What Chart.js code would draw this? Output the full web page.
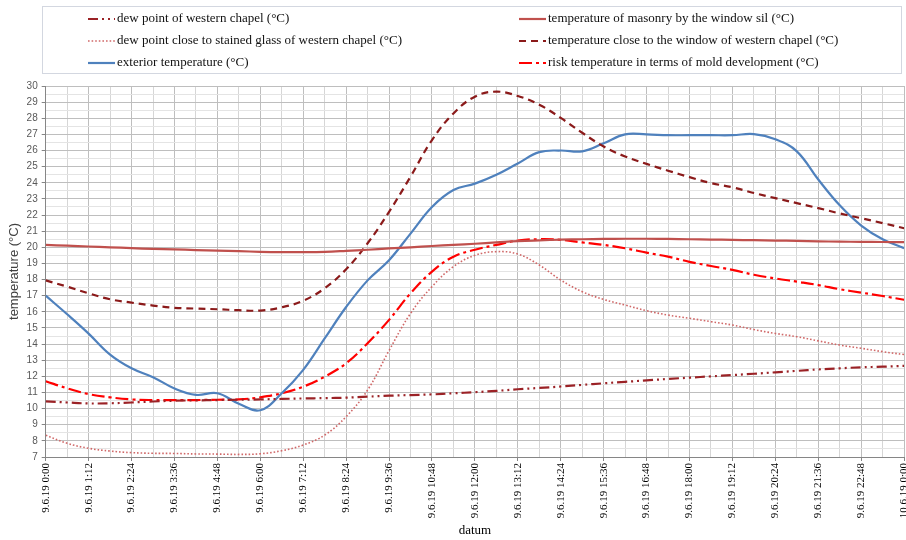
<!DOCTYPE html>
<html><head><meta charset="utf-8">
<script src="https://cdn.jsdelivr.net/npm/chart.js@4.4.1/dist/chart.umd.min.js"></script>
<style>html,body{margin:0;padding:0;background:#fff;overflow:hidden}#wrap{width:906px;height:540px;position:relative}</style>
</head><body><div id="wrap"><canvas id="c" width="906" height="540"></canvas></div>
<script>
// time in hours from 9.6.19 0:00
const hours = [0,0.6,1.2,1.8,2.4,3,3.6,4.2,4.8,5.4,6,6.6,7.2,7.8,8.4,9,9.6,10.2,10.8,11.4,12,12.6,13.2,13.8,14.4,15,15.6,16.2,16.8,17.4,18,18.6,19.2,19.8,20.4,21,21.6,22.2,22.8,23.4,24];
const xTickLabels = ["9.6.19 0:00","9.6.19 1:12","9.6.19 2:24","9.6.19 3:36","9.6.19 4:48","9.6.19 6:00","9.6.19 7:12","9.6.19 8:24","9.6.19 9:36","9.6.19 10:48","9.6.19 12:00","9.6.19 13:12","9.6.19 14:24","9.6.19 15:36","9.6.19 16:48","9.6.19 18:00","9.6.19 19:12","9.6.19 20:24","9.6.19 21:36","9.6.19 22:48","10.6.19 0:00"];
const seriesNames = ["dew point of western chapel (°C)","temperature of masonry by the window sil (°C)","dew point close to stained glass of western chapel (°C)","temperature close to the window of western chapel (°C)","exterior temperature (°C)","risk temperature in terms of mold development (°C)"];
const dewPointChapel = [10.45,10.38,10.32,10.33,10.38,10.44,10.49,10.51,10.53,10.55,10.57,10.6,10.63,10.65,10.68,10.74,10.8,10.84,10.88,10.95,11.02,11.1,11.2,11.28,11.37,11.47,11.57,11.66,11.75,11.84,11.92,12.0,12.08,12.16,12.25,12.34,12.43,12.5,12.56,12.6,12.65];
const masonryTemp = [20.15,20.1,20.05,20.0,19.95,19.9,19.87,19.83,19.8,19.76,19.72,19.7,19.7,19.72,19.78,19.85,19.93,20.0,20.08,20.15,20.22,20.3,20.38,20.43,20.47,20.5,20.52,20.53,20.53,20.52,20.5,20.48,20.46,20.44,20.42,20.4,20.37,20.35,20.34,20.33,20.32];
const dewPointGlass = [8.35,7.85,7.54,7.37,7.27,7.23,7.22,7.19,7.18,7.16,7.2,7.39,7.74,8.36,9.5,11.15,13.6,15.9,17.56,18.8,19.5,19.73,19.58,18.9,17.97,17.25,16.77,16.42,16.07,15.8,15.6,15.39,15.18,14.9,14.66,14.46,14.2,13.94,13.74,13.53,13.35];
const windowTemp = [17.95,17.56,17.15,16.78,16.57,16.39,16.25,16.2,16.16,16.1,16.08,16.28,16.69,17.46,18.64,20.25,22.2,24.38,26.65,28.3,29.34,29.65,29.38,28.84,28.02,27.1,26.25,25.63,25.17,24.75,24.35,23.98,23.72,23.37,23.05,22.74,22.43,22.1,21.8,21.5,21.18];
const exteriorTemp = [17.0,15.85,14.65,13.35,12.5,11.95,11.25,10.85,10.95,10.3,9.9,10.95,12.4,14.35,16.3,17.95,19.2,20.85,22.5,23.55,23.95,24.5,25.2,25.9,26.0,25.95,26.45,27.0,27.0,26.95,26.95,26.95,26.95,27.02,26.7,25.95,24.2,22.6,21.35,20.5,19.95];
const riskTemp = [11.7,11.26,10.9,10.7,10.57,10.53,10.53,10.53,10.55,10.57,10.7,10.95,11.36,11.98,12.81,14.05,15.5,17.15,18.49,19.42,19.85,20.15,20.42,20.5,20.46,20.3,20.15,19.94,19.67,19.42,19.1,18.84,18.6,18.3,18.07,17.87,17.66,17.4,17.19,16.98,16.75];

const pts = arr => arr.map((v, i) => ({x: hours[i], y: v}));
const styles = [
  {c:'#9B2226', w:2.2, d:[10,4,2,4,2,4]},
  {c:'#C0504D', w:2.2, d:[]},
  {c:'#D06868', w:1.6, d:[1.6,2]},
  {c:'#8B1A1A', w:2.2, d:[7,5]},
  {c:'#4F81BD', w:2.2, d:[]},
  {c:'#FF0000', w:2.2, d:[13,4,3,4]}
];
const values = [dewPointChapel, masonryTemp, dewPointGlass, windowTemp, exteriorTemp, riskTemp];
const datasets = values.map((arr, i) => ({
  label: seriesNames[i], data: pts(arr),
  borderColor: styles[i].c, borderWidth: styles[i].w, borderDash: styles[i].d,
  pointRadius: 0, tension: 0.4, fill: false
}));

const boxLegend = {
  id: 'boxLegend',
  afterDraw(chart) {
    const ctx = chart.ctx;
    ctx.save();
    ctx.strokeStyle = '#D3D7E0'; ctx.lineWidth = 1; ctx.setLineDash([]);
    ctx.strokeRect(42.5, 6.5, 859, 67);
    const cols = [{sx: 88, tx: 117}, {sx: 519, tx: 548}];
    const rows = [19, 41, 63];
    chart.data.datasets.forEach((ds, i) => {
      const col = cols[i % 2], y = rows[Math.floor(i / 2)];
      ctx.setLineDash(ds.borderDash || []);
      ctx.strokeStyle = ds.borderColor; ctx.lineWidth = ds.borderWidth;
      ctx.beginPath(); ctx.moveTo(col.sx, y); ctx.lineTo(col.sx + 27, y); ctx.stroke();
      ctx.setLineDash([]);
      ctx.fillStyle = '#111'; ctx.font = '13px "Liberation Serif"'; ctx.textBaseline = 'middle'; ctx.textAlign = 'left';
      ctx.fillText(ds.label, col.tx, y);
    });
    ctx.restore();
  }
};

new Chart(document.getElementById('c'), {
  type: 'line',
  data: { datasets },
  plugins: [boxLegend],
  options: {
    responsive: false, devicePixelRatio: 1, animation: false,
    layout: { autoPadding: false, padding: { top: 86, right: 1.9, left: 0, bottom: 0 } },
    plugins: { legend: { display: false }, tooltip: { enabled: false } },
    scales: {
      x: {
        type: 'linear', min: 0, max: 24,
        afterFit: s => { s.height = 83; s.paddingLeft = 0; s.paddingRight = 0; },
        border: { color: '#868686', width: 1 },
        grid: {
          color: c => (c.index % 2 === 0 ? '#BEBEBE' : '#D6D6D6'),
          tickColor: c => (c.index % 2 === 0 ? '#868686' : 'rgba(0,0,0,0)'),
          tickLength: 4
        },
        ticks: {
          stepSize: 0.6, autoSkip: false, minRotation: 90, maxRotation: 90, padding: 2,
          color: '#000', font: { family: 'Liberation Serif', size: 11 },
          callback: (v, i) => (i % 2 === 0 ? xTickLabels[i / 2] : '')
        },
        title: { display: true, text: 'datum', color: '#000', font: { family: 'Liberation Serif', size: 13 }, padding: { top: 0, bottom: 2 } }
      },
      y: {
        min: 7, max: 30,
        afterFit: s => { s.width = 45.7; },
        border: { color: '#868686', width: 1 },
        grid: {
          color: c => (Number.isInteger(c.tick.value) ? '#BEBEBE' : '#E4E4E4'),
          tickColor: c => (Number.isInteger(c.tick.value) ? '#868686' : 'rgba(0,0,0,0)'),
          tickLength: 4
        },
        ticks: {
          stepSize: 0.5, autoSkip: false, padding: 4,
          color: '#595959', font: { family: 'Liberation Sans', size: 10 },
          callback: v => (Number.isInteger(v) ? String(v) : '')
        },
        title: { display: true, text: 'temperature (°C)', color: '#404040', font: { family: 'Liberation Sans', size: 13 }, padding: { top: 7, bottom: 0 } }
      }
    }
  }
});
</script></body></html>
